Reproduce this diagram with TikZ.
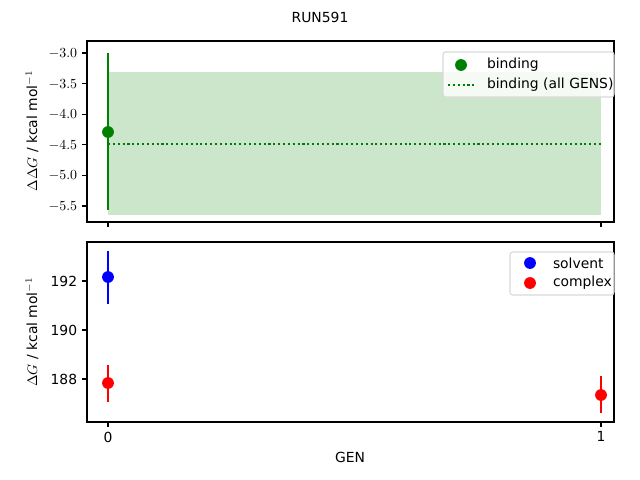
\documentclass[tikz,border=0pt]{standalone}
\usepackage{fontspec}
\setmainfont{DejaVu Sans}
\definecolor{mplgreen}{RGB}{0,128,0}
\begin{document}
\begin{tikzpicture}[x=0.72pt,y=-0.72pt,inner sep=0pt,outer sep=0pt,font=\fontsize{10}{12}\selectfont,
frame/.style={draw,line width=0.8pt},
tick/.style={draw,line width=0.8pt},
dot/.style={circle,fill,minimum size=8.5pt},
legendbox/.style={draw=black!15,fill=white,fill opacity=0.8,text opacity=1,rounded corners=2pt,line width=0.8pt}]
\useasboundingbox (0,0) rectangle (640,480);

\node (title) at (320,17) {RUN591};

% top axes
\fill[mplgreen,opacity=0.2] (108,72) rectangle (601,215);
\draw[mplgreen,line width=1.5pt,dotted] (108,144) -- (601,144);
\draw[mplgreen,line width=1.5pt] (108,53) -- (108,210);
\node[dot,mplgreen] (bind) at (108,132) {};
\draw[frame] (87,41) rectangle (614,222);
\foreach \v/\y in {-3.0/53,-3.5/83.6,-4.0/114.2,-4.5/144.8,-5.0/175.4,-5.5/206}{
  \draw[tick] (87,\y) -- ++(-5,0) node[left=3.5pt] {$\v$\vphantom{0}};
}
\foreach \x in {108,601}{\draw[tick] (\x,222) -- ++(0,5);}
\node[rotate=90] (ylabtop) at (32,131) {$\Delta\Delta G$ / kcal mol$^{-1}$};
\draw[legendbox] (443,52) rectangle (614,97);
\node[dot,mplgreen] (lgbind) at (461,65) {};
\node[right] at (487,65) {binding};
\coordinate (lgdot) at (448,85);
\draw[mplgreen,line width=1.5pt,dotted] (lgdot) -- ++(28,0);
\node[right] at (487,85) {binding (all GENS)};

% bottom axes
\draw[blue,line width=1.5pt] (108,251) -- (108,304);
\node[dot,blue] (solv) at (108,277) {};
\draw[red,line width=1.5pt] (108,365) -- (108,402);
\node[dot,red] (cplx0) at (108,383) {};
\draw[red,line width=1.5pt] (601,376) -- (601,413);
\node[dot,red] (cplx1) at (601,395) {};
\draw[frame] (87,242) rectangle (614,422);
\foreach \v/\y in {192/281,190/330,188/379}{
  \draw[tick] (87,\y) -- ++(-5,0) node[left=3.5pt] {\v};
}
\foreach \v/\x in {0/108,1/601}{
  \draw[tick] (\x,422) -- ++(0,5) node[below=3.5pt] {\v};
}
\node (xlab) at (350,457) {GEN};
\node[rotate=90] (ylabbot) at (32,332) {$\Delta G$ / kcal mol$^{-1}$};
\draw[legendbox] (510,252) rectangle (614,295);
\node[dot,blue] (lgsolv) at (530,263) {};
\node[right] at (553,263) {solvent};
\node[dot,red] (lgcplx) at (530,283) {};
\node[right] at (553,283) {complex};
\end{tikzpicture}
\end{document}
